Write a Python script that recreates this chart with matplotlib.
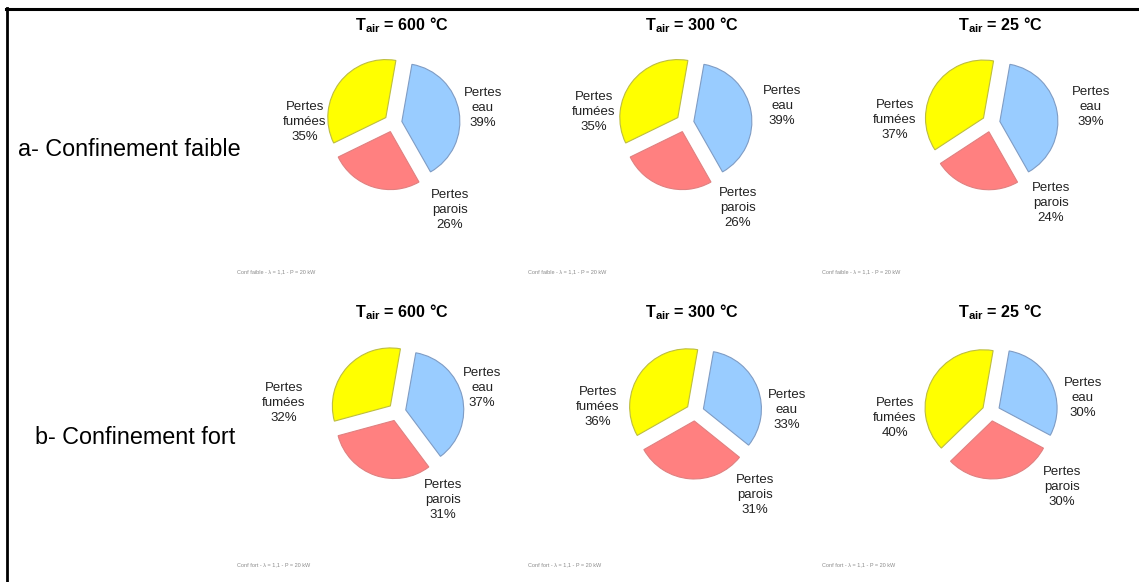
import matplotlib
matplotlib.use('Agg')
import matplotlib.pyplot as plt
from matplotlib.lines import Line2D

# Data
temperatures = ['600', '300', '25']
row_labels = ['a- Confinement faible', 'b- Confinement fort']
captions = ['Conf faible - \u03bb = 1,1 - P = 20 kW', 'Conf fort - \u03bb = 1,1 - P = 20 kW']
categories = ['eau', 'parois', 'fum\u00e9es']

faible_eau = [39, 39, 39]
faible_parois = [26, 26, 24]
faible_fumees = [35, 35, 37]

fort_eau = [37, 33, 30]
fort_parois = [31, 31, 30]
fort_fumees = [32, 36, 40]

rows = [
    (faible_eau, faible_parois, faible_fumees),
    (fort_eau, fort_parois, fort_fumees),
]

colors = ['#99CCFF', '#FF8080', '#FFFF00']
edge_colors = ['#7F9CC4', '#E08080', '#BDBD40']

plt.rcParams['font.family'] = ['Liberation Sans', 'DejaVu Sans']
plt.rcParams['mathtext.fontset'] = 'custom'
plt.rcParams['mathtext.rm'] = 'Liberation Sans:bold'
plt.rcParams['mathtext.it'] = 'Liberation Sans:bold'
plt.rcParams['mathtext.bf'] = 'Liberation Sans:bold'

W, H = 1139, 582
fig = plt.figure(figsize=(W / 100, H / 100), dpi=100)
fig.patch.set_facecolor('white')

# layout (pixels, y from top)
R = 58.0                     # pie radius in px
centers = [[(393, 123), (685, 123), (991, 123)],
           [(397, 412), (695, 412), (991, 412)]]
title_x = [402, 692, 1000]
title_y = [25, 312]
caption_y = [272, 565]
caption_x = [237, 528, 822]
row_label_pos = [(18, 150), (35, 438)]

# label centres in pixels per panel: eau, parois, fumees
label_pos = [
    [[(483, 108), (450, 210), (305, 122)],
     [(782, 106), (738, 208), (594, 112)],
     [(1091, 107), (1051, 203), (895, 120)]],
    [[(482, 388), (443, 500), (284, 403)],
     [(787, 410), (755, 495), (598, 407)],
     [(1083, 398), (1062, 487), (895, 418)]],
]


def fx(px):
    return px / W


def fy(py):
    return 1 - py / H


L = 2.2
S = 2 * L * R
for i, (eau, parois, fumees) in enumerate(rows):
    for j, temp in enumerate(temperatures):
        cx, cy = centers[i][j]
        ax = fig.add_axes([fx(cx - S / 2), fy(cy + S / 2), S / W, S / H])
        vals = [eau[j], parois[j], fumees[j]]
        wedges, _ = ax.pie(vals, colors=colors, startangle=80, counterclock=False,
                           explode=[0.155, 0.155, 0.155], radius=1.0,
                           wedgeprops=dict(linewidth=0.8))
        for w, ec in zip(wedges, edge_colors):
            w.set_edgecolor(ec)
        ax.set_xlim(-L, L)
        ax.set_ylim(-L, L)
        ax.set_aspect('equal')
        ax.axis('off')
        for k, cat in enumerate(categories):
            lx, ly = label_pos[i][j][k]
            ax.text((lx - cx) / R, -(ly - cy) / R, f"Pertes\n{cat}\n{vals[k]}%",
                    ha='center', va='center', fontsize=9.5, linespacing=1.3,
                    color='#222222', clip_on=False)
        fig.text(fx(title_x[j]), fy(title_y[i]), r'T$_{\mathrm{air}}$' + f' = {temp} \u00b0C',
                 ha='center', va='center', fontsize=11.6, fontweight='bold')
        fig.text(fx(caption_x[j]), fy(caption_y[i]), captions[i],
                 ha='left', va='center', fontsize=4, color='#8a8a8a')

for (x, y), lab in zip(row_label_pos, row_labels):
    fig.text(fx(x), fy(y), lab, ha='left', va='center', fontsize=16.8)

# frame lines (top and left only, as in the cropped original)
fig.add_artist(Line2D([fx(6), 1], [fy(8.7), fy(8.7)], color='black', linewidth=2.2))
fig.add_artist(Line2D([fx(7), fx(7)], [fy(7.5), 0], color='black', linewidth=2.0))

fig.savefig('out.png', dpi=100, facecolor='white')
